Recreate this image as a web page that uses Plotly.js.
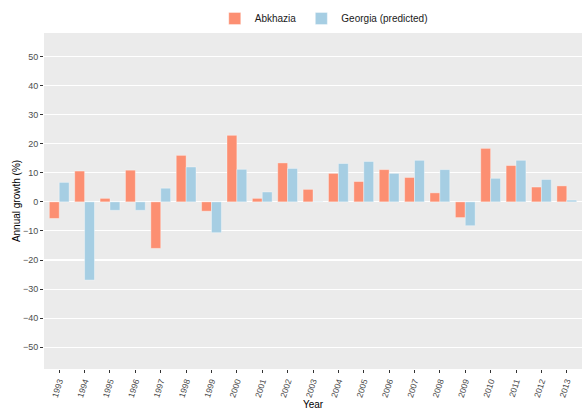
<!DOCTYPE html>
<html>
<head>
<meta charset="utf-8">
<script src="https://cdn.plot.ly/plotly-3.0.1.min.js"></script>
<style>html,body{margin:0;padding:0;background:#fff;}#chart{width:582px;height:410px;}</style>
</head>
<body>
<div id="chart"></div>
<script>
const years = ["1993","1994","1995","1996","1997","1998","1999","2000","2001","2002","2003","2004","2005","2006","2007","2008","2009","2010","2011","2012","2013"];
const abkhazia = [-5.7,10.6,1.2,10.9,-16.0,16.0,-3.2,22.9,1.2,13.4,4.3,9.8,7.0,11.1,8.4,3.1,-5.4,18.4,12.5,5.1,5.5];
const georgia = [6.7,-26.9,-2.9,-2.9,4.7,12.0,-10.6,11.2,3.4,11.5,0.15,13.2,13.9,9.8,14.3,11.1,-8.2,8.1,14.3,7.7,0.6];
const yTicks = [-50,-40,-30,-20,-10,0,10,20,30,40,50];

const traces = [
  {type:"bar", name:"Abkhazia", x:years, y:abkhazia,
   marker:{color:"#FC8F72", line:{color:"rgba(255,255,255,0.45)", width:0.8}}},
  {type:"bar", name:"Georgia (predicted)", x:years, y:georgia,
   marker:{color:"#A6CEE3", line:{color:"rgba(255,255,255,0.45)", width:0.8}}}
];

const layout = {
  width:582, height:410,
  margin:{l:44, r:0, t:33, b:41, pad:0},
  paper_bgcolor:"#ffffff", plot_bgcolor:"#EBEBEB",
  barmode:"group", bargap:0.22, bargroupgap:0,
  font:{family:"Liberation Sans, Arial, sans-serif", size:9, color:"#4D4D4D"},
  showlegend:true,
  legend:{orientation:"h", x:0.52, xanchor:"center", y:1.0, yanchor:"bottom",
          font:{size:10, color:"#1a1a1a"}, itemwidth:30, traceorder:"normal"},
  xaxis:{
    type:"category", range:[-0.6, 20.6], tickangle:-72,
    showgrid:false, zeroline:false, ticks:"outside", ticklen:3, tickcolor:"#333",
    tickfont:{size:8.5, color:"#4D4D4D"},
    title:{text:"Year", font:{size:10, color:"#000"}, standoff:4}
  },
  yaxis:{
    range:[-57.5, 58.1], tickvals:yTicks,
    showgrid:true, gridcolor:"#ffffff", gridwidth:1.1, zeroline:false,
    ticks:"outside", ticklen:3, tickcolor:"#333",
    tickfont:{size:9, color:"#4D4D4D"},
    title:{text:"Annual growth (%)", font:{size:10, color:"#000"}, standoff:0}
  }
};

Plotly.newPlot("chart", traces, layout, {displayModeBar:false, staticPlot:true});
</script>
</body>
</html>
